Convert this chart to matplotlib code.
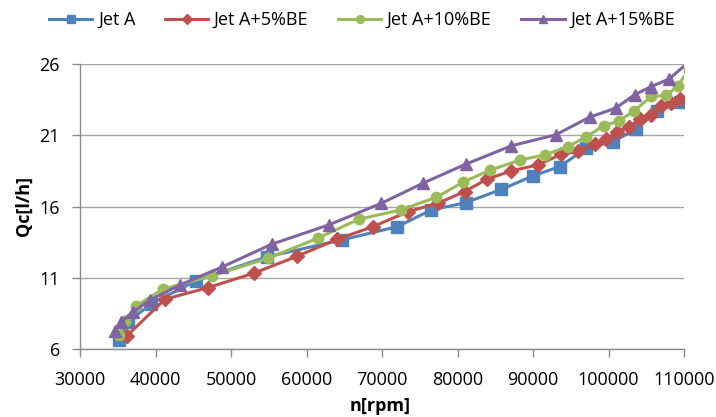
import matplotlib
matplotlib.use("Agg")
import matplotlib.pyplot as plt

plt.rcParams['font.family'] = ['Open Sans', 'DejaVu Sans']

series_names = ["Jet A", "Jet A+5%BE", "Jet A+10%BE", "Jet A+15%BE"]
colors = ["#4F81BD", "#C0504D", "#9BBB59", "#8064A2"]

jetA_x = [35230, 36390, 39400, 45350, 54710, 64640, 72050, 76550, 81090, 85820,
          90000, 93530, 97070, 100590, 103690, 106460, 109420, 111000]
jetA_y = [6.60, 7.92, 9.16, 10.78, 12.46, 13.65, 14.59, 15.76, 16.27, 17.20,
          18.15, 18.80, 20.09, 20.56, 21.43, 22.71, 23.30, 23.60]

be5_x = [36180, 41250, 46900, 53030, 58760, 64060, 68820, 73450, 77430, 80960,
         83910, 87140, 90660, 93760, 95960, 98170, 99710, 101170, 102710, 104120,
         105670, 107000, 108320, 109420, 111000]
be5_y = [6.91, 9.49, 10.30, 11.32, 12.51, 13.70, 14.59, 15.64, 16.23, 17.05,
         17.92, 18.50, 18.92, 19.67, 19.86, 20.37, 20.73, 21.26, 21.57, 22.13,
         22.43, 23.02, 23.25, 23.54, 23.80]

be10_x = [35230, 35960, 37410, 41030, 47430, 54920, 61460, 66930, 72490, 77210,
          80730, 84270, 88330, 91550, 94630, 96970, 99360, 101380, 103370, 105670,
          107660, 109190, 110600]
be10_y = [6.95, 8.00, 9.02, 10.21, 11.13, 12.37, 13.77, 15.11, 15.76, 16.65,
          17.71, 18.54, 19.27, 19.62, 20.21, 20.87, 21.66, 22.01, 22.71, 23.72,
          23.79, 24.47, 25.60]

be15_x = [34630, 35430, 37020, 39270, 43240, 48760, 55370, 62960, 69930, 75440,
          81090, 87140, 93000, 97500, 100940, 103460, 105670, 108000, 111000]
be15_y = [7.26, 7.90, 8.60, 9.44, 10.49, 11.74, 13.35, 14.71, 16.23, 17.64,
          18.97, 20.26, 21.03, 22.27, 22.90, 23.84, 24.42, 24.94, 26.30]

x_ticks = [30000, 40000, 50000, 60000, 70000, 80000, 90000, 100000, 110000]
y_ticks = [6, 11, 16, 21, 26]

W, H = 716, 417
fig = plt.figure(figsize=(W / 100, H / 100), dpi=100)
ax = fig.add_axes([80 / W, 1 - 349 / H, (684 - 80) / W, (349 - 64) / H])

markers = ['s', 'D', 'o', '^']
msizes = [8.0, 6.8, 7.5, 8.6]
data = [(jetA_x, jetA_y), (be5_x, be5_y), (be10_x, be10_y), (be15_x, be15_y)]
handles = []
for (xs, ys), name, c, m, ms in zip(data, series_names, colors, markers, msizes):
    h, = ax.plot(xs, ys, color=c, lw=2.2, marker=m, markersize=ms,
                 markerfacecolor=c, markeredgecolor=c, label=name)
    handles.append(h)

ax.set_xlim(30000, 110000)
ax.set_ylim(6, 26)
ax.set_xticks(x_ticks)
ax.set_yticks(y_ticks)
ax.set_xticklabels([str(v) for v in x_ticks])
ax.set_yticklabels([str(v) for v in y_ticks])

gray = "#8C8C8C"
ax.grid(axis='y', color="#A6A6A6", lw=1.0)
ax.set_axisbelow(True)
for s in ['top', 'right']:
    ax.spines[s].set_visible(False)
for s in ['left', 'bottom']:
    ax.spines[s].set_color(gray)
    ax.spines[s].set_linewidth(1.0)
ax.tick_params(axis='both', colors=gray, length=5.5, width=1.0, labelcolor='black',
               labelsize=13)
ax.tick_params(axis='x', pad=10)
ax.tick_params(axis='y', pad=9)

fig.text(24 / W, 1 - 206 / H, "Qc[l/h]", rotation=90, ha='center', va='center',
         fontsize=13, fontweight='bold')
fig.text(380 / W, 1 - 406 / H, "n[rpm]", ha='center', va='center',
         fontsize=13, fontweight='bold')

fig.legend(handles=handles, loc='center', bbox_to_anchor=(362 / W, 1 - 20 / H),
           ncol=4, frameon=False, fontsize=13, handlelength=2.4,
           handletextpad=0.3, columnspacing=1.65, borderpad=0, markerscale=0.75)

fig.savefig("out.png", dpi=100)
